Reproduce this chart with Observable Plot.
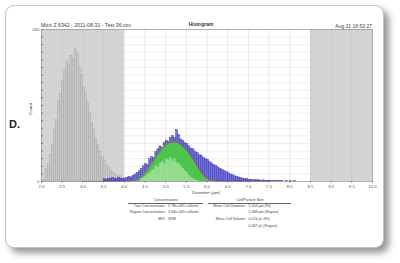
<!DOCTYPE html>
<html><head><meta charset="utf-8">
<script src="https://cdn.jsdelivr.net/npm/d3@7"></script>
<script src="https://cdn.jsdelivr.net/npm/@observablehq/plot@0.6"></script>
<style>
html,body{margin:0;padding:0;background:#fff;}
#root{position:relative;width:400px;height:263px;overflow:hidden;font-family:"Liberation Sans",Arial,sans-serif;}
#card{position:absolute;left:5px;top:5px;width:377px;height:241px;background:#fff;border:1px solid #c4c4c4;border-radius:9px;box-shadow:5px 5px 7px rgba(0,0,0,0.42);}
#chart{position:absolute;left:0;top:0;}
.t{position:absolute;white-space:nowrap;color:#444;font-size:4.6px;line-height:1;transform:translateY(-50%);}
.hl{position:absolute;height:0;border-top:0.6px solid #666;}
</style></head>
<body><div id="root"><div id="card"></div><div id="chart"></div></div>
<script>
// ---- data ----
const fileTitle = "Moxi Z 6342 - 2011-08-31 - Test 36.csv";
const centerTitle = "Histogram";
const timeStamp = "Aug 31 18:53:27";
const panelLetter = "D.";
const xLabel = "Diameter (µm)";
const yLabel = "Count";
const xTicks = [2.0,2.5,3.0,3.5,4.0,4.5,5.0,5.5,6.0,6.5,7.0,7.5,8.0,8.5,9.0,9.5,10.0];
const yGrid = [0,13,26,39,52,65,78,91,104,117,130,143,156,169,182,195,208,221,234,247,260];
const yLabelTicks = [0,260];
const xDomain = [2.0,10.0];
const yDomain = [0,260];
const gateLow = [2.0, 8.5];
const gateHigh = [4.0, 10.0];
const binWidth = 0.05;
// debris / gray histogram (bins starting at 2.00)
const grayStart = 2.0;
const grayCounts = [0,3,22,30,45,62,88,105,138,150,172,190,205,198,215,208,226,218,195,182,
                    160,150,135,118,100,88,72,62,50,42,35,28,24,18,15,12,10,8,9,6];
// cell histogram (blue, bins starting at 3.50)
const blueStart = 3.5;
const blueCounts = [4,3,5,4,6,5,4,6,5,4, 5,6,8,7,10,12,15,18,22,26, 30,28,38,42,40,50,55,60,58,66,
                    70,68,75,78,74,88,80,72,70,66, 64,60,56,55,50,49,45,44,40,38, 37,33,31,28,27,24,22,20,18,16,
                    14,12,11,9,8,7,6,5,4,4, 3,3,2,3,2,2,1,2,1,1, 1,1,0.5,1,0.5,0.5,0.5,0,0.5,0, 0.5,0,0.5];
// light region bars inside the fit (bins starting at 4.40)
const lightStart = 4.4;
const lightCounts = [4,6,8,12,14,18,20,26,24,30,34,30,38,36,40,34,38,32,30,26,22,18,14,10,6,4,2,1];
// fitted curve
const fitDiam = [3.0,3.5,4.0,4.1,4.2,4.3,4.4,4.5,4.6,4.7,4.8,4.9,5.0,5.1,5.2,5.3,5.4,5.5,5.6,5.7,5.8,5.9,6.0,6.1,6.2,6.5,7.0,7.5];
const fitCounts = [0,0,0,0.3,1,3,7,14,24,34,45,55,62,66,67,66,61,54,45,34,22,12,5,1.5,0.3,0,0,0];
// stats table
const concHeader = "Concentrations";
const sizeHeader = "Cell/Particle Size";
const concLabels = ["True Concentration:", "Region Concentration:", "MVI:"];
const concValues = ["2.78e+005 cells/mL", "2.64e+005 cells/mL", "SPM"];
const sizeLabels = ["Mean Cell Diameter:", "", "Mean Cell Volume:", ""];
const sizeValues = ["5.204 µm (Fit)", "5.488 µm (Region)", "0.074 pL (Fit)", "0.087 pL (Region)"];

// ---- derived tables ----
const gates = gateLow.map((a,i)=>({x1:a, x2:gateHigh[i]}));
const grayBins = grayCounts.map((c,i)=>({x1:grayStart+i*binWidth, x2:grayStart+(i+1)*binWidth, y:c}));
const blueBins = blueCounts.map((c,i)=>({x1:blueStart+i*binWidth, x2:blueStart+(i+1)*binWidth, y:c}));
const lightBins = lightCounts.map((c,i)=>({x1:lightStart+i*binWidth, x2:lightStart+(i+1)*binWidth, y:c}));
const fit = fitDiam.map((d,i)=>({d, c:fitCounts[i]}));
const fitInner = fit.filter(p=>p.d>=4.0 && p.d<=6.3);

const chart = Plot.plot({
  width:400, height:263,
  marginLeft:41, marginRight:28, marginTop:29, marginBottom:82,
  x:{domain:xDomain},
  y:{domain:yDomain},
  style:{background:"transparent", fontFamily:"'Liberation Sans', Arial, sans-serif", fontSize:"4.3px", color:"#555"},
  marks:[
    Plot.rect(gates,{x1:"x1", x2:"x2", y1:yDomain[0], y2:yDomain[1], fill:"#d4d4d4"}),
    Plot.gridX(xTicks,{stroke:"#c0c0c0", strokeOpacity:0.7, strokeWidth:0.5}),
    Plot.gridY(yGrid,{stroke:"#c8c8c8", strokeOpacity:0.6, strokeWidth:0.5}),
    Plot.rectY(grayBins,{x1:"x1", x2:"x2", y:"y", fill:"#c8c8c8", stroke:"#a0a0a0", strokeWidth:0.4}),
    Plot.rectY(blueBins,{x1:"x1", x2:"x2", y:"y", fill:"#5050d8", stroke:"#2a2aa8", strokeWidth:0.35, fillOpacity:0.8}),
    Plot.areaY(fitInner,{x:"d", y:"c", fill:"#4cc54c", curve:"catmull-rom"}),
    Plot.rectY(lightBins,{x1:"x1", x2:"x2", y:"y", fill:"#c4ecb8", fillOpacity:0.55, stroke:"#e2f6dc", strokeOpacity:0.5, strokeWidth:0.3}),
    Plot.lineY(fit,{x:"d", y:"c", stroke:"#d23b3b", strokeWidth:0.8, curve:"catmull-rom"}),
    Plot.frame({stroke:"#8a8a8a", strokeWidth:0.6}),
    Plot.axisX({ticks:xTicks, tickSize:1.5, tickPadding:1.5, tickFormat:d=>d.toFixed(1), label:null, stroke:"#777", fill:"#555"}),
    Plot.axisY({ticks:yGrid, tickSize:-2, tickFormat:()=>"", label:null, stroke:"#777"}),
    Plot.axisY({ticks:yLabelTicks, tickSize:0, tickPadding:2, label:null, fill:"#555"})
  ]
});
document.getElementById("chart").appendChild(chart);

// ---- html texts ----
const root = document.getElementById("root");
function addText(txt, x, y, opts={}) {
  const el = document.createElement("div");
  el.className = "t";
  el.textContent = txt;
  el.style.top = y + "px";
  if (opts.align === "right") { el.style.right = (400 - x) + "px"; el.style.textAlign = "right"; }
  else if (opts.align === "center") { el.style.left = x + "px"; el.style.transform = "translate(-50%,-50%)"; }
  else el.style.left = x + "px";
  if (opts.size) el.style.fontSize = opts.size + "px";
  if (opts.weight) el.style.fontWeight = opts.weight;
  if (opts.color) el.style.color = opts.color;
  if (opts.rotate) { el.style.left = x + "px"; el.style.transform = "translate(-50%,-50%) rotate(-90deg)"; }
  root.appendChild(el);
  return el;
}
function addLine(x1, x2, y) {
  const el = document.createElement("div");
  el.className = "hl";
  el.style.left = x1 + "px"; el.style.width = (x2 - x1) + "px"; el.style.top = y + "px";
  root.appendChild(el);
}
addText(fileTitle, 41, 26, {size:5.2});
addText(centerTitle, 201, 24, {align:"center", size:5, weight:"bold", color:"#333"});
addText(timeStamp, 372, 26, {align:"right", size:5});
addText(panelLetter, 9, 124, {size:11, weight:"bold", color:"#222"});
addText(yLabel, 31, 109, {rotate:true, size:4.4});
addText(xLabel, 206, 192.5, {align:"center", size:4.4});
const ts = 3.6;
addText(concHeader, 166, 200.6, {align:"center", size:ts});
addText(sizeHeader, 250, 200.6, {align:"center", size:ts});
addLine(128, 203, 203.3);
addLine(208, 291, 203.3);
const rowY = [206.8, 213.4, 220, 226.6];
concLabels.forEach((l,i)=>{ addText(l, 165.5, rowY[i], {align:"right", size:ts}); addText(concValues[i], 168, rowY[i], {size:ts}); });
sizeLabels.forEach((l,i)=>{ if (l) addText(l, 246, rowY[i], {align:"right", size:ts}); addText(sizeValues[i], 248.5, rowY[i], {size:ts}); });
</script>
</body></html>
